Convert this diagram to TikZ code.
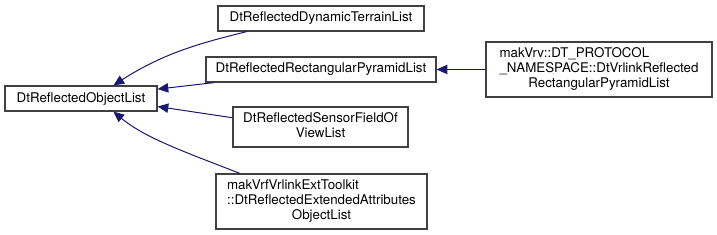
\documentclass[tikz,border=0pt]{standalone}
\usepackage{fontspec}
\setmainfont{TeX Gyre Heros}
\usetikzlibrary{arrows.meta}

\newcommand{\lastline}[1]{\multicolumn{1}{@{}c@{}}{#1}}

\begin{document}
\begin{tikzpicture}[x=0.75pt, y=-0.75pt, font=\fontsize{10}{11.25}\selectfont]

\definecolor{edgeblue}{HTML}{191970}
\definecolor{boxgray}{HTML}{404040}

\tikzset{
  cls/.style={rectangle, draw=boxgray, fill=white, line width=0.9pt, inner sep=0pt, minimum height=18.75pt},
  cls3/.style={cls, minimum height=41.25pt},
  inh/.style={<-, >={Triangle[length=8pt, width=7pt]}, draw=edgeblue, line width=0.75pt}
}

\useasboundingbox (0,0) rectangle (717,235);

%base class
\node[cls, minimum width=114pt] (objlist) at (81,98.5) {DtReflectedObjectList};

%derived classes
\node[cls, minimum width=154.5pt] (dyn) at (321,18.5) {DtReflectedDynamicTerrainList};
\node[cls, minimum width=172.5pt] (rect) at (321,69.5) {DtReflectedRectangularPyramidList};
\node[cls, minimum width=131.25pt, minimum height=30pt] (sensor) at (320.5,127)
  {\begin{tabular}{@{}l@{}}DtReflectedSensorFieldOf\\\lastline{ViewList}\end{tabular}};
\node[cls3, minimum width=158.25pt] (ext) at (321.5,201.5)
  {\begin{tabular}{@{}l@{}}makVrfVrlinkExtToolkit\\::DtReflectedExtendedAttributes\\\lastline{ObjectList}\end{tabular}};
\node[cls3, minimum width=169.5pt] (vrv) at (599,69.5)
  {\begin{tabular}{@{}l@{}}makVrv::DT\_PROTOCOL\\\_NAMESPACE::DtVrlinkReflected\\\lastline{RectangularPyramidList}\end{tabular}};

%inheritance
\draw[inh] (objlist.22) .. controls (165,52) and (205,42) .. (dyn.190);
\draw[inh] (objlist.7) -- (rect.187);
\draw[inh] (objlist.354) -- (sensor.174);
\draw[inh] (objlist.338) .. controls (145,138) and (185,152) .. (ext.161);
\draw[inh] (rect.east) -- (vrv.west);

\end{tikzpicture}
\end{document}
